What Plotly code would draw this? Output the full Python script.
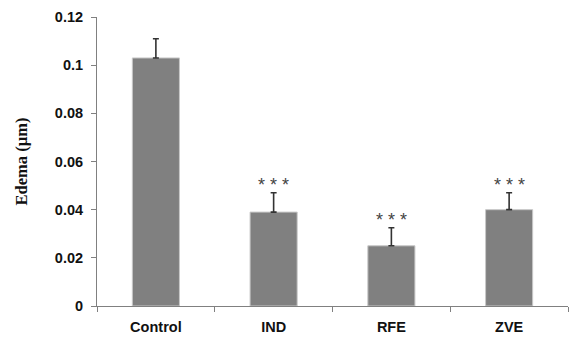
import plotly.graph_objects as go

categories = ["Control", "IND", "RFE", "ZVE"]
edema = [0.103, 0.039, 0.025, 0.040]
sem = [0.008, 0.008, 0.0075, 0.007]
significance = ["", "***", "***", "***"]
y_ticks = [0, 0.02, 0.04, 0.06, 0.08, 0.1, 0.12]
y_tick_labels = ["0", "0.02", "0.04", "0.06", "0.08", "0.1", "0.12"]

fig = go.Figure()
fig.add_trace(go.Bar(
    x=categories, y=edema,
    marker=dict(color="#808080", line=dict(color="#c8c8c8", width=1)),
    error_y=dict(type="data", array=sem, arrayminus=[0]*len(sem), symmetric=False,
                 color="#333333", thickness=1.6, width=3),
    width=0.4,
))

for c, v, e, s in zip(categories, edema, sem, significance):
    if s:
        fig.add_annotation(x=c, y=v + e, text="\u00a0".join(list(s)), showarrow=False,
                           yanchor="bottom", yshift=-4,
                           font=dict(family="Liberation Sans", size=18, color="#444444"))

fig.update_layout(
    width=574, height=346,
    margin=dict(l=97, r=6, t=17, b=40),
    plot_bgcolor="white", paper_bgcolor="white",
    showlegend=False,
    font=dict(family="Liberation Sans", color="#111111"),
)
fig.update_xaxes(
    showline=True, linecolor="#808080", linewidth=1,
    ticks="outside", tickson="boundaries", ticklen=5, tickcolor="#808080",
    tickfont=dict(family="Liberation Sans", size=14.5, color="#111111", weight="bold"),
    ticklabelstandoff=8,
    showgrid=False,
)
fig.update_yaxes(
    range=[0, 0.12], tickvals=y_ticks, ticktext=y_tick_labels,
    showline=True, linecolor="#808080", linewidth=1,
    ticks="outside", ticklen=5, tickcolor="#808080",
    tickfont=dict(family="Liberation Sans", size=14.5, color="#111111", weight="bold"),
    ticklabelstandoff=5,
    showgrid=False, zeroline=False,
    title=dict(text="Edema (µm)", font=dict(family="Liberation Serif", size=16.5, color="#111111", weight="bold"), standoff=23),
)

fig.write_html("out.html")
